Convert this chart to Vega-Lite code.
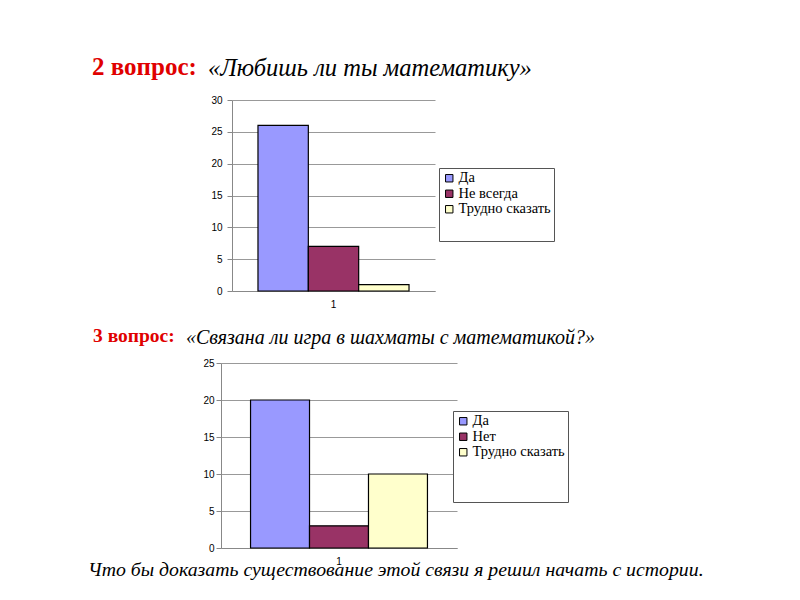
{
  "$schema": "https://vega.github.io/schema/vega-lite/v6.json",
  "background": "white",
  "padding": {"left": 88, "top": 55, "right": 5, "bottom": 5},
  "datasets": {
    "q2": [
      {"group": "1", "answer": "Да", "value": 26},
      {"group": "1", "answer": "Не всегда", "value": 7},
      {"group": "1", "answer": "Трудно сказать", "value": 1}
    ],
    "q3": [
      {"group": "1", "answer": "Да", "value": 20},
      {"group": "1", "answer": "Нет", "value": 3},
      {"group": "1", "answer": "Трудно сказать", "value": 10}
    ]
  },
  "title": {
    "text": "Что бы доказать существование этой связи я решил начать с истории.",
    "orient": "bottom", "anchor": "start", "frame": "bounds", "dx": -4, "offset": 10,
    "baseline": "alphabetic", "font": "Liberation Serif", "fontSize": 19.8,
    "fontStyle": "italic", "fontWeight": "normal", "color": "black"
  },
  "spacing": 16,
  "vconcat": [
    {
      "title": {
        "text": "«Любишь ли ты математику»", "anchor": "start", "frame": "bounds",
        "dx": 116, "dy": 45, "offset": 0, "baseline": "alphabetic",
        "font": "Liberation Serif", "fontSize": 24.5, "fontStyle": "italic",
        "fontWeight": "normal", "color": "black"
      },
      "vconcat": [
        {
          "width": 203,
          "height": 191,
          "data": {"name": "q2"},
          "title": {
            "text": "2 вопрос:", "anchor": "start", "frame": "group", "dx": -140,
            "offset": -5, "baseline": "alphabetic", "color": "#e00000",
            "font": "Liberation Serif", "fontSize": 25, "fontWeight": "bold"
          },
          "mark": {"type": "bar", "stroke": "black", "strokeWidth": 1.2},
          "encoding": {
            "x": {
              "field": "group", "type": "nominal",
              "scale": {"paddingOuter": 0.172, "paddingInner": 0},
              "axis": {"title": null, "labelAngle": 0, "ticks": false, "labelPadding": 8}
            },
            "xOffset": {
              "field": "answer", "type": "nominal",
              "sort": ["Да", "Не всегда", "Трудно сказать"],
              "scale": {"paddingInner": 0, "paddingOuter": 0}
            },
            "y": {
              "field": "value", "type": "quantitative",
              "scale": {"domain": [0, 30]},
              "axis": {"title": null, "values": [0, 5, 10, 15, 20, 25, 30], "labelPadding": 5}
            },
            "color": {
              "field": "answer", "type": "nominal",
              "scale": {
                "domain": ["Да", "Не всегда", "Трудно сказать"],
                "range": ["#9999ff", "#993366", "#ffffcc"]
              },
              "legend": {
                "orient": "none", "legendX": 207, "legendY": 68,
                "title": "\u00a0",
                "titleOrient": "bottom", "titleFont": "Liberation Serif",
                "titleFontSize": 12, "titlePadding": 11,
                "padding": 3, "strokeColor": "#555", "fillColor": "white",
                "symbolType": "square", "symbolSize": 55,
                "symbolStrokeColor": "black", "symbolStrokeWidth": 1,
                "labelFont": "Liberation Serif", "labelFontSize": 14.5,
                "labelColor": "black", "rowPadding": 0.5, "labelOffset": 2
              }
            }
          }
        }
      ]
    },
    {
      "title": {
        "text": "«Связана ли игра в шахматы с математикой?»", "anchor": "start",
        "frame": "bounds", "dx": 93, "dy": 38, "offset": 0, "baseline": "alphabetic",
        "font": "Liberation Serif", "fontSize": 20, "fontStyle": "italic",
        "fontWeight": "normal", "color": "black"
      },
      "vconcat": [
        {
          "width": 236,
          "height": 185,
          "data": {"name": "q3"},
          "title": {
            "text": "3 вопрос:", "anchor": "start", "frame": "group", "dx": -139,
            "offset": -3, "baseline": "alphabetic", "color": "#e00000",
            "font": "Liberation Serif", "fontSize": 19.5, "fontWeight": "bold"
          },
          "mark": {"type": "bar", "stroke": "black", "strokeWidth": 1.2},
          "encoding": {
            "x": {
              "field": "group", "type": "nominal",
              "scale": {"range": [-11, 225], "paddingOuter": 0.167, "paddingInner": 0},
              "axis": {"title": null, "labelAngle": 0, "ticks": false, "labelPadding": 8}
            },
            "xOffset": {
              "field": "answer", "type": "nominal",
              "sort": ["Да", "Нет", "Трудно сказать"],
              "scale": {"paddingInner": 0, "paddingOuter": 0}
            },
            "y": {
              "field": "value", "type": "quantitative",
              "scale": {"domain": [0, 25]},
              "axis": {"title": null, "offset": 11, "values": [0, 5, 10, 15, 20, 25], "labelPadding": 2}
            },
            "color": {
              "field": "answer", "type": "nominal",
              "scale": {
                "domain": ["Да", "Нет", "Трудно сказать"],
                "range": ["#9999ff", "#993366", "#ffffcc"]
              },
              "legend": {
                "orient": "none", "legendX": 221, "legendY": 48,
                "title": "\u00a0",
                "titleOrient": "bottom", "titleFont": "Liberation Serif",
                "titleFontSize": 12, "titlePadding": 29,
                "padding": 3, "strokeColor": "#555", "fillColor": "white",
                "symbolType": "square", "symbolSize": 55,
                "symbolStrokeColor": "black", "symbolStrokeWidth": 1,
                "labelFont": "Liberation Serif", "labelFontSize": 14.5,
                "labelColor": "black", "rowPadding": 0.5, "labelOffset": 2
              }
            }
          }
        }
      ]
    }
  ],
  "resolve": {
    "scale": {"color": "independent", "x": "independent", "y": "independent", "xOffset": "independent"},
    "legend": {"color": "independent"}
  },
  "config": {
    "view": {"stroke": null},
    "axis": {
      "domainColor": "#888", "gridColor": "#999", "tickColor": "#888",
      "labelFont": "Liberation Sans", "labelFontSize": 10, "labelColor": "black"
    },
    "axisY": {"tickSize": 5},
    "axisX": {"grid": false}
  }
}
